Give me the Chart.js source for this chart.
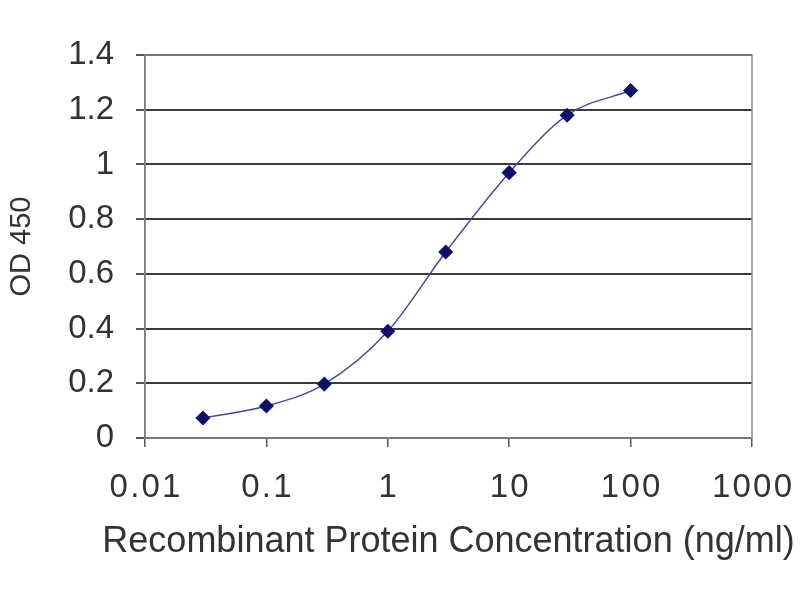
<!DOCTYPE html>
<html>
<head>
<meta charset="utf-8">
<script src="https://cdn.jsdelivr.net/npm/chart.js@4/dist/chart.umd.min.js"></script>
<style>
  html, body { margin: 0; padding: 0; background: #fff; }
  #wrap { width: 800px; height: 600px; }
</style>
</head>
<body>
<div id="wrap"><canvas id="odChart" width="800" height="600"></canvas></div>
<script>
// concentration (ng/ml) and measured OD 450
const concentrations = [0.03, 0.1, 0.3, 1, 3, 10, 30, 100];
const odValues = [0.073, 0.117, 0.197, 0.39, 0.68, 0.97, 1.18, 1.27];
const xTicks = [0.01, 0.1, 1, 10, 100, 1000];
const xTickLabels = ["0.01", "0.1", "1", "10", "100", "1000"];
const yTicks = [0, 0.2, 0.4, 0.6, 0.8, 1, 1.2, 1.4];
const yTickLabels = ["0", "0.2", "0.4", "0.6", "0.8", "1", "1.2", "1.4"];

const textColor = "#333";
const fontFamily = "'Liberation Sans', Arial, sans-serif";

// box round the plot area
const frame = {
  id: "frame",
  afterDraw(chart) {
    const { ctx, chartArea: a } = chart;
    ctx.save();
    ctx.strokeStyle = "#8a8a8a";
    ctx.lineWidth = 1.5;
    ctx.strokeRect(a.left, a.top, a.right - a.left, a.bottom - a.top);
    ctx.restore();
  }
};

// x tick labels are set a bit wider in the picture
function spaced(fn, ctx, spacing, widen) {
  return function (...args) {
    const l = this.left, r = this.right;
    ctx.save();
    if (spacing) {
      ctx.letterSpacing = spacing + "px";
      ctx.translate(spacing / 2, 0);
    }
    // title gets squeezed to the axis width otherwise
    if (widen) { this.left = l - widen; this.right = r + widen; }
    fn.apply(this, args);
    this.left = l;
    this.right = r;
    ctx.restore();
  };
}
const wideXText = {
  id: "wideXText",
  beforeDraw(chart) {
    const xs = chart.scales.x;
    if (xs._wide) return;
    xs.drawLabels = spaced(xs.drawLabels, chart.ctx, 2.2, 0);
    xs.drawTitle = spaced(xs.drawTitle, chart.ctx, 0, 100);
    xs._wide = true;
  }
};

const ctx = document.getElementById("odChart").getContext("2d");

new Chart(ctx, {
  type: "line",
  data: {
    datasets: [{
      label: "OD 450",
      data: concentrations.map((c, i) => ({ x: c, y: odValues[i] })),
      borderColor: "#4a4a9c",
      borderWidth: 1.5,
      cubicInterpolationMode: "monotone",
      pointStyle: "rectRot",
      pointRadius: 6.5,
      pointBackgroundColor: "#10106a",
      pointBorderColor: "#10106a",
      fill: false
    }]
  },
  options: {
    responsive: false,
    animation: false,
    layout: { padding: { top: 55, right: 48, left: 0, bottom: 0 } },
    plugins: {
      legend: { display: false },
      tooltip: { enabled: false }
    },
    scales: {
      x: {
        type: "logarithmic",
        min: 0.01,
        max: 1000,
        afterBuildTicks: scale => {
          scale.ticks = xTicks.map(v => ({ value: v }));
        },
        afterFit: scale => {
          scale.height = 162;
          scale.paddingLeft = 0;
          scale.paddingRight = 0;
        },
        ticks: {
          autoSkip: false,
          maxRotation: 0,
          color: textColor,
          font: { family: fontFamily, size: 33 },
          padding: 21,
          callback: (v, i) => xTickLabels[i]
        },
        grid: {
          drawOnChartArea: false,
          drawTicks: true,
          tickLength: 9,
          color: "#555",
          lineWidth: 1.5
        },
        border: { color: "#555", width: 1.5 },
        title: {
          display: true,
          text: "Recombinant Protein Concentration (ng/ml)",
          color: textColor,
          font: { family: fontFamily, size: 36 },
          padding: { top: 0, bottom: 36 }
        }
      },
      y: {
        min: 0,
        max: 1.4,
        afterBuildTicks: scale => {
          scale.ticks = yTicks.map(v => ({ value: v }));
        },
        afterFit: scale => { scale.width = 145; },
        ticks: {
          color: textColor,
          font: { family: fontFamily, size: 33 },
          padding: 22,
          callback: (v, i) => yTickLabels[i]
        },
        grid: {
          color: "#3c3c3c",
          lineWidth: 2,
          tickLength: 9,
          tickColor: "#555"
        },
        border: { color: "#555", width: 1.5 },
        title: {
          display: true,
          text: "OD 450",
          color: textColor,
          font: { family: fontFamily, size: 29 },
          padding: { top: 5, bottom: 0 }
        }
      }
    }
  },
  plugins: [frame, wideXText]
});
</script>
</body>
</html>
